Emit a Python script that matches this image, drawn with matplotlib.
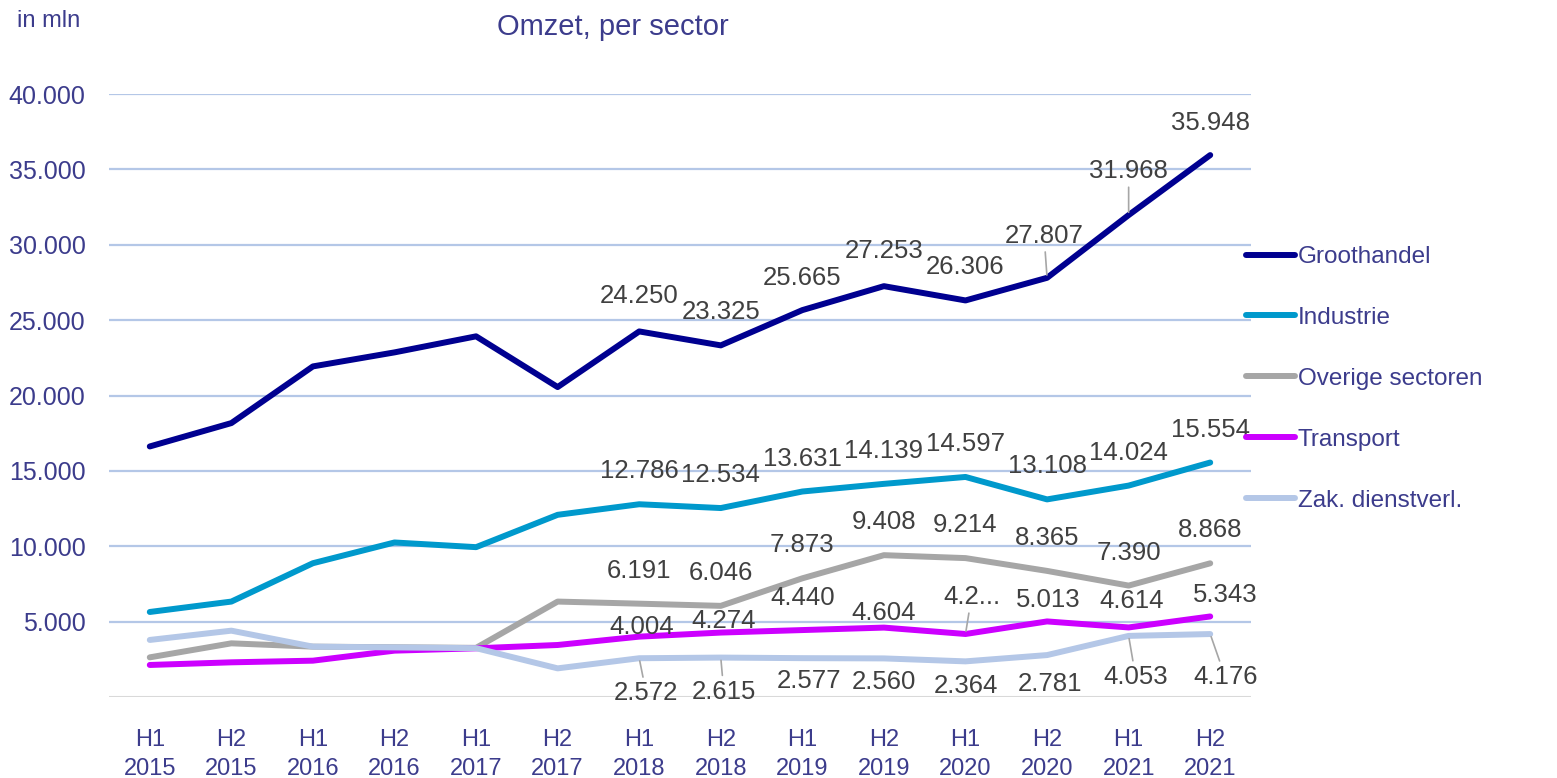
import matplotlib
matplotlib.use("Agg")
import matplotlib.pyplot as plt

# data
periods = ["H1\n2015", "H2\n2015", "H1\n2016", "H2\n2016", "H1\n2017", "H2\n2017",
           "H1\n2018", "H2\n2018", "H1\n2019", "H2\n2019", "H1\n2020", "H2\n2020",
           "H1\n2021", "H2\n2021"]

groothandel = [16620, 18170, 21930, 22860, 23925, 20560,
               24250, 23325, 25665, 27253, 26306, 27807, 31968, 35948]
industrie = [5640, 6330, 8875, 10250, 9940, 12085,
             12786, 12534, 13631, 14139, 14597, 13108, 14024, 15554]
overige = [2630, 3560, 3340, 3300, 3260, 6330,
           6191, 6046, 7873, 9408, 9214, 8365, 7390, 8868]
transport = [2125, 2300, 2410, 3075, 3230, 3450,
             4004, 4274, 4440, 4604, 4180, 5013, 4614, 5343]
zak = [3785, 4400, 3340, 3290, 3240, 1900,
       2572, 2615, 2577, 2560, 2364, 2781, 4053, 4176]

series_names = ["Groothandel", "Industrie", "Overige sectoren", "Transport", "Zak. dienstverl."]
y_ticks = [5000, 10000, 15000, 20000, 25000, 30000, 35000, 40000]

LABEL_START = 6  # data labels only from H1 2018 on

# styling
colors = ["#000090", "#0099CC", "#A6A6A6", "#CC00FF", "#B4C7E7"]
text_blue = "#3C3C8C"
label_grey = "#404040"
font = "Liberation Sans"
LW = 4.3

# label offsets in pixels (dx, dy) for the labelled points, plus leader-line flags
offsets = {
    "Groothandel": ([0, 0, 0, 0, 0, -3, 0, 0], [35, 33, 32, 35, 33, 42, 44, 32],
                    [0, 0, 0, 0, 0, 1, 1, 0]),
    "Industrie": ([0] * 8, [33] * 8, [0] * 8),
    "Overige sectoren": ([0] * 8, [33] * 8, [0] * 8),
    "Transport": ([2, 3, 0, 0, 6, 1, 3, 15], [10, 12, 32, 15, 37, 21, 26, 21],
                  [0, 0, 0, 0, 1, 0, 0, 0]),
    "Zak. dienstverl.": ([7, 3, 7, 0, 0, 3, 7, 15], [-35, -34, -23, -24, -25, -29, -41, -43],
                         [1, 1, 0, 0, 0, 0, 1, 1]),
}
label_override = {("Transport", 10): "4.2..."}


def fmt(v):
    return f"{v:,.0f}".replace(",", ".")


fig = plt.figure(figsize=(15.57, 7.78), dpi=100)
ax = fig.add_axes([109 / 1557, 1 - 697 / 778, (1251 - 109) / 1557, (697 - 94) / 778])

x = list(range(len(periods)))
all_series = [groothandel, industrie, overige, transport, zak]

# gridlines
for t in y_ticks:
    ax.axhline(t, color="#B4C7E7", lw=1.6, zorder=0)
ax.axhline(0, color="#D9D9D9", lw=2.2, zorder=0)

for name, vals, col in zip(series_names, all_series, colors):
    ax.plot(x, vals, color=col, lw=LW, solid_capstyle="round",
            solid_joinstyle="round", label=name, zorder=3)

for name, vals in zip(series_names, all_series):
    dxs, dys, leaders = offsets[name]
    for k, i in enumerate(range(LABEL_START, len(vals))):
        txt = label_override.get((name, i), fmt(vals[i]))
        kw = {}
        if leaders[k]:
            kw["arrowprops"] = dict(arrowstyle="-", color="#A6A6A6", lw=1.2,
                                    shrinkA=1, shrinkB=2)
        ax.annotate(txt, (x[i], vals[i]), xytext=(dxs[k], dys[k]),
                    textcoords="offset pixels", ha="center", va="center",
                    fontsize=18.5, color=label_grey, family=font, zorder=5, **kw)

ax.set_xlim(-0.5, len(periods) - 0.5)
ax.set_ylim(0, 40000)
ax.set_yticks(y_ticks)
ax.set_yticklabels([fmt(t) for t in y_ticks], fontsize=18, color=text_blue, family=font)
ax.set_xticks(x)
ax.set_xticklabels(periods, fontsize=17, color=text_blue, family=font, linespacing=1.42)
ax.tick_params(axis="both", length=0)
ax.tick_params(axis="y", pad=17)
ax.tick_params(axis="x", pad=23)
for s in ax.spines.values():
    s.set_visible(False)

fig.text(613 / 1557, 1 - 27 / 778, "Omzet, per sector", ha="center", va="center",
         fontsize=21, color=text_blue, family=font)
fig.text(17 / 1557, 1 - 21 / 778, "in mln", ha="left", va="center",
         fontsize=17, color=text_blue, family=font)

leg = ax.legend(loc="upper left", bbox_to_anchor=(1246 / 1557, 1 - 246 / 778),
                bbox_transform=fig.transFigure, frameon=False, fontsize=17.5,
                handlelength=2.0, handletextpad=0.12, labelspacing=1.6,
                borderaxespad=0, borderpad=0)
for t in leg.get_texts():
    t.set_color(text_blue)
    t.set_family(font)
for h in leg.get_lines():
    h.set_linewidth(LW)

fig.savefig("out.png", dpi=100)
